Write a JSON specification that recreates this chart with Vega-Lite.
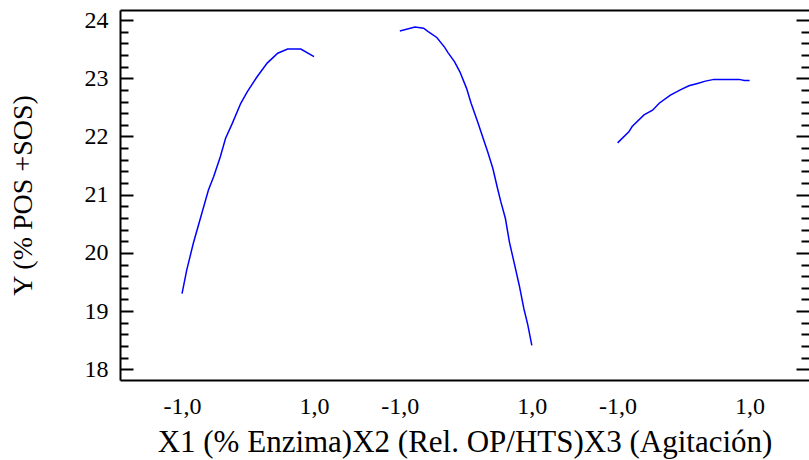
{
  "$schema": "https://vega.github.io/schema/vega-lite/v6.json",
  "width": 689,
  "height": 370,
  "autosize": "none",
  "padding": {"left": 120, "top": 10, "right": 0, "bottom": 80},
  "background": "white",
  "config": {
    "view": {"stroke": null},
    "font": "Liberation Serif, Times New Roman, serif",
    "axis": {
      "labelFont": "Liberation Serif, Times New Roman, serif",
      "titleFont": "Liberation Serif, Times New Roman, serif",
      "labelColor": "black",
      "titleColor": "black",
      "titleFontWeight": "normal",
      "domainColor": "black",
      "tickColor": "black",
      "grid": false
    }
  },
  "data": {
    "values": [
      {"factor": "X1", "level": -1.0, "y": 19.30},
      {"factor": "X1", "level": -0.93, "y": 19.70},
      {"factor": "X1", "level": -0.83, "y": 20.16},
      {"factor": "X1", "level": -0.70, "y": 20.68},
      {"factor": "X1", "level": -0.60, "y": 21.08},
      {"factor": "X1", "level": -0.52, "y": 21.31},
      {"factor": "X1", "level": -0.42, "y": 21.65},
      {"factor": "X1", "level": -0.34, "y": 21.97},
      {"factor": "X1", "level": -0.24, "y": 22.22},
      {"factor": "X1", "level": -0.11, "y": 22.57},
      {"factor": "X1", "level": -0.01, "y": 22.77},
      {"factor": "X1", "level": 0.14, "y": 23.03},
      {"factor": "X1", "level": 0.29, "y": 23.26},
      {"factor": "X1", "level": 0.45, "y": 23.43},
      {"factor": "X1", "level": 0.60, "y": 23.50},
      {"factor": "X1", "level": 0.80, "y": 23.50},
      {"factor": "X1", "level": 1.0, "y": 23.37},
      {"factor": "X2", "level": -1.0, "y": 23.81},
      {"factor": "X2", "level": -0.77, "y": 23.88},
      {"factor": "X2", "level": -0.64, "y": 23.86},
      {"factor": "X2", "level": -0.57, "y": 23.80},
      {"factor": "X2", "level": -0.44, "y": 23.70},
      {"factor": "X2", "level": -0.32, "y": 23.53},
      {"factor": "X2", "level": -0.27, "y": 23.44},
      {"factor": "X2", "level": -0.17, "y": 23.28},
      {"factor": "X2", "level": -0.09, "y": 23.11},
      {"factor": "X2", "level": 0.01, "y": 22.83},
      {"factor": "X2", "level": 0.08, "y": 22.57},
      {"factor": "X2", "level": 0.18, "y": 22.25},
      {"factor": "X2", "level": 0.28, "y": 21.91},
      {"factor": "X2", "level": 0.33, "y": 21.74},
      {"factor": "X2", "level": 0.41, "y": 21.45},
      {"factor": "X2", "level": 0.48, "y": 21.11},
      {"factor": "X2", "level": 0.53, "y": 20.88},
      {"factor": "X2", "level": 0.60, "y": 20.59},
      {"factor": "X2", "level": 0.66, "y": 20.19},
      {"factor": "X2", "level": 0.73, "y": 19.84},
      {"factor": "X2", "level": 0.81, "y": 19.44},
      {"factor": "X2", "level": 0.88, "y": 19.04},
      {"factor": "X2", "level": 0.94, "y": 18.76},
      {"factor": "X2", "level": 1.0, "y": 18.41},
      {"factor": "X3", "level": -1.0, "y": 21.89},
      {"factor": "X3", "level": -0.83, "y": 22.08},
      {"factor": "X3", "level": -0.78, "y": 22.17},
      {"factor": "X3", "level": -0.60, "y": 22.37},
      {"factor": "X3", "level": -0.47, "y": 22.45},
      {"factor": "X3", "level": -0.37, "y": 22.57},
      {"factor": "X3", "level": -0.20, "y": 22.71},
      {"factor": "X3", "level": -0.05, "y": 22.80},
      {"factor": "X3", "level": 0.08, "y": 22.87},
      {"factor": "X3", "level": 0.21, "y": 22.91},
      {"factor": "X3", "level": 0.33, "y": 22.95},
      {"factor": "X3", "level": 0.46, "y": 22.98},
      {"factor": "X3", "level": 0.84, "y": 22.98},
      {"factor": "X3", "level": 0.92, "y": 22.96},
      {"factor": "X3", "level": 1.0, "y": 22.96}
    ]
  },
  "transform": [
    {"calculate": "datum.level + (datum.factor == 'X2' ? 3.3 : (datum.factor == 'X3' ? 6.6 : 0))", "as": "pos"}
  ],
  "layer": [
    {
      "transform": [{"filter": "datum.factor != 'X3'"}],
      "mark": {"type": "line", "color": "#0000ff", "strokeWidth": 1.5},
      "encoding": {
        "detail": {"field": "factor"},
        "x": {
          "field": "pos", "type": "quantitative",
          "scale": {"domain": [-1.94, 8.5], "nice": false, "zero": false},
          "axis": {
            "orient": "bottom",
            "values": [-1, 1, 2.3, 4.3, 5.6, 7.6],
            "labelExpr": "(datum.value == -1 || datum.value == 2.3 || datum.value == 5.6) ? '-1,0' : '1,0'",
            "ticks": false,
            "domain": true,
            "domainWidth": 2,
            "labelFontSize": 24,
            "labelPadding": 14,
            "title": "X1 (% Enzima)X2 (Rel. OP/HTS)X3 (Agitación)",
            "titleFontSize": 31,
            "titlePadding": 9
          }
        },
        "y": {
          "field": "y", "type": "quantitative",
          "scale": {"domain": [17.816, 24.172], "nice": false, "zero": false},
          "axis": {
            "orient": "left",
            "values": [18, 18.2, 18.4, 18.6, 18.8, 19, 19.2, 19.4, 19.6, 19.8, 20, 20.2, 20.4, 20.6, 20.8, 21, 21.2, 21.4, 21.6, 21.8, 22, 22.2, 22.4, 22.6, 22.8, 23, 23.2, 23.4, 23.6, 23.8, 24],
            "labelExpr": "datum.value % 1 === 0 ? format(datum.value, 'd') : ''",
            "tickSize": {"condition": {"test": "datum.value % 1 === 0", "value": -13}, "value": -8},
            "tickWidth": 2,
            "domain": true,
            "domainWidth": 2,
            "labelFontSize": 24,
            "labelPadding": 25,
            "title": "Y (% POS +SOS)",
            "titleFontSize": 28,
            "titlePadding": 47
          }
        }
      }
    },
    {
      "transform": [{"filter": "datum.factor == 'X3'"}],
      "mark": {"type": "line", "color": "#0000ff", "strokeWidth": 1.5},
      "encoding": {
        "x": {
          "field": "pos", "type": "quantitative",
          "scale": {"domain": [-1.94, 8.5], "nice": false, "zero": false},
          "axis": {
            "orient": "top",
            "labels": false,
            "ticks": false,
            "domain": true,
            "domainWidth": 2,
            "title": null
          }
        },
        "y": {
          "field": "y", "type": "quantitative",
          "scale": {"domain": [17.816, 24.172], "nice": false, "zero": false},
          "axis": {
            "orient": "right",
            "values": [18, 18.2, 18.4, 18.6, 18.8, 19, 19.2, 19.4, 19.6, 19.8, 20, 20.2, 20.4, 20.6, 20.8, 21, 21.2, 21.4, 21.6, 21.8, 22, 22.2, 22.4, 22.6, 22.8, 23, 23.2, 23.4, 23.6, 23.8, 24],
            "labels": false,
            "tickSize": {"condition": {"test": "datum.value % 1 === 0", "value": -13}, "value": -8},
            "tickWidth": 2,
            "domain": false,
            "title": null
          }
        }
      }
    }
  ],
  "resolve": {
    "scale": {"x": "independent", "y": "independent"},
    "axis": {"x": "independent", "y": "independent"}
  }
}
